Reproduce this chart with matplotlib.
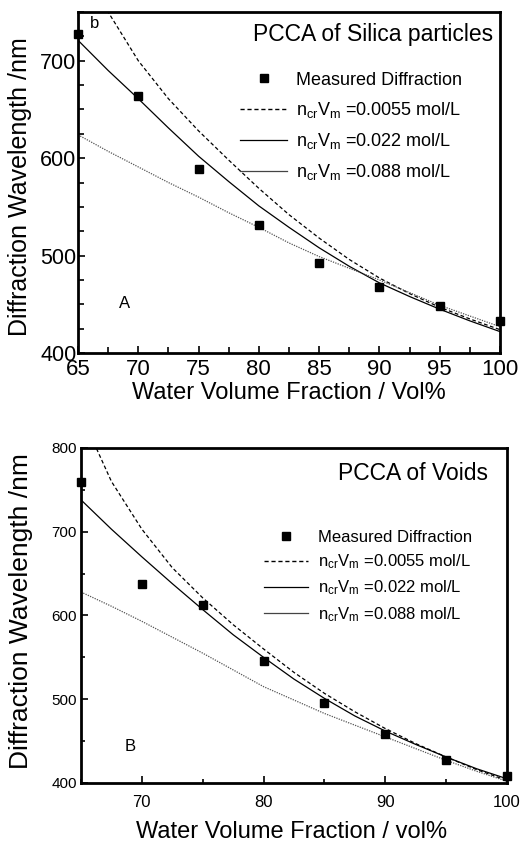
import matplotlib
matplotlib.use("Agg")
import matplotlib.pyplot as plt
from matplotlib.ticker import MultipleLocator
from matplotlib.lines import Line2D

plt.rcParams['font.family'] = ['Liberation Sans', 'DejaVu Sans']
plt.rcParams['mathtext.fontset'] = 'custom'
plt.rcParams['mathtext.rm'] = 'Liberation Sans'
plt.rcParams['mathtext.it'] = 'Liberation Sans'

# ---- Data: panel A (silica particles) ----
meas_x = [65, 70, 75, 80, 85, 90, 95, 100]
silica_meas = [727, 664, 589, 531, 492, 468, 448, 433]
curve_x = [65, 67.5, 70, 72.5, 75, 77.5, 80, 82.5, 85, 87.5, 90, 92.5, 95, 97.5, 100]
silica_0055 = [815, 750, 700, 661, 628, 598, 569, 542, 518, 496, 477, 461, 447, 435, 424]
silica_022 = [721, 690, 661, 631, 602, 576, 551, 529, 508, 489, 472, 458, 445, 433, 422]
silica_088 = [624, 607, 591, 575, 560, 544, 529, 513, 499, 487, 475, 462, 449, 438, 427]

# ---- Data: panel B (voids) ----
voids_meas = [759, 638, 613, 546, 496, 459, 427, 408]
voids_0055 = [840, 760, 703, 657, 621, 589, 560, 532, 507, 485, 465, 447, 431, 416, 403]
voids_022 = [738, 703, 670, 638, 607, 577, 550, 524, 501, 480, 462, 446, 431, 417, 405]
voids_088 = [628, 611, 593, 574, 555, 535, 515, 499, 483, 469, 455, 441, 427, 414, 402]

labels = ['Measured Diffraction',
          r'n$_{\rm cr}$V$_{\rm m}$ =0.0055 mol/L',
          r'n$_{\rm cr}$V$_{\rm m}$ =0.022 mol/L',
          r'n$_{\rm cr}$V$_{\rm m}$ =0.088 mol/L']

fig = plt.figure(figsize=(5.26, 8.46), dpi=100)
axA = fig.add_axes([0.1483, 0.5827, 0.8023, 0.4031])
axB = fig.add_axes([0.1540, 0.0745, 0.8099, 0.3960])


def draw(ax, meas, c1, c2, c3):
    ax.plot(curve_x, c1, color='black', ls=(0, (3, 2)), lw=0.9)
    ax.plot(curve_x, c2, color='black', ls='-', lw=0.9)
    ax.plot(curve_x, c3, color='#555555', ls=(0, (1, 1)), lw=0.9)
    ax.plot(meas_x, meas, ls='none', marker='s', ms=6, color='black', clip_on=False, zorder=5)
    for s in ax.spines.values():
        s.set_linewidth(2)


draw(axA, silica_meas, silica_0055, silica_022, silica_088)
draw(axB, voids_meas, voids_0055, voids_022, voids_088)

handles = [Line2D([], [], ls='none', marker='s', ms=6, color='black'),
           Line2D([], [], color='black', ls=(0, (3, 2)), lw=1.0),
           Line2D([], [], color='black', ls='-', lw=0.9),
           Line2D([], [], color='#444444', ls='-', lw=0.9)]

# Panel A formatting
axA.set_xlim(65, 100)
axA.set_ylim(400, 750)
axA.xaxis.set_major_locator(MultipleLocator(5))
axA.xaxis.set_minor_locator(MultipleLocator(2.5))
axA.yaxis.set_major_locator(MultipleLocator(100))
axA.yaxis.set_minor_locator(MultipleLocator(25))
axA.tick_params(which='both', direction='in', width=1.2, top=False, right=False)
axA.tick_params(which='major', length=5, labelsize=16, pad=4)
axA.tick_params(which='minor', length=4)
axA.tick_params(axis='y', which='major', labelsize=15.5, pad=1)
axA.set_xlabel('Water Volume Fraction / Vol%', fontsize=17)
axA.set_ylabel('Diffraction Wavelength /nm', fontsize=18)
axA.xaxis.set_label_coords(0.50, -0.085)
axA.yaxis.set_label_coords(-0.11, 0.487)
axA.text(0.983, 0.933, 'PCCA of Silica particles', transform=axA.transAxes,
         ha='right', va='center', fontsize=16.5)
axA.text(66.0, 738, 'b', fontsize=12, ha='left', va='center')
axA.text(68.9, 451, 'A', fontsize=12, ha='center', va='center')
axA.legend(handles, labels, loc='upper left', bbox_to_anchor=(0.384, 0.825),
           frameon=False, fontsize=13, handlelength=2.6, handletextpad=0.5,
           labelspacing=0.62, borderpad=0, borderaxespad=0)

# Panel B formatting
axB.set_xlim(65, 100)
axB.set_ylim(400, 800)
axB.xaxis.set_major_locator(MultipleLocator(10))
axB.xaxis.set_minor_locator(MultipleLocator(5))
axB.yaxis.set_major_locator(MultipleLocator(100))
axB.yaxis.set_minor_locator(MultipleLocator(50))
axB.tick_params(which='both', direction='in', width=1.2, top=False, right=False)
axB.tick_params(which='major', length=5, labelsize=12)
axB.tick_params(axis='y', which='major', labelsize=11, pad=3)
axB.tick_params(which='minor', length=3)
axB.tick_params(axis='x', which='major', pad=9)
axB.set_xlabel('Water Volume Fraction / vol%', fontsize=17)
axB.set_ylabel('Diffraction Wavelength /nm', fontsize=19)
axB.xaxis.set_label_coords(0.495, -0.113)
axB.yaxis.set_label_coords(-0.113, 0.513)
axB.text(0.955, 0.925, 'PCCA of Voids', transform=axB.transAxes,
         ha='right', va='center', fontsize=16.5)
axB.text(69.0, 444, 'B', fontsize=12, ha='center', va='center')
axB.legend(handles, labels, loc='upper left', bbox_to_anchor=(0.43, 0.755),
           frameon=False, fontsize=12, handlelength=2.6, handletextpad=0.6,
           labelspacing=0.45, borderpad=0, borderaxespad=0)

fig.savefig('out.png', dpi=100)
